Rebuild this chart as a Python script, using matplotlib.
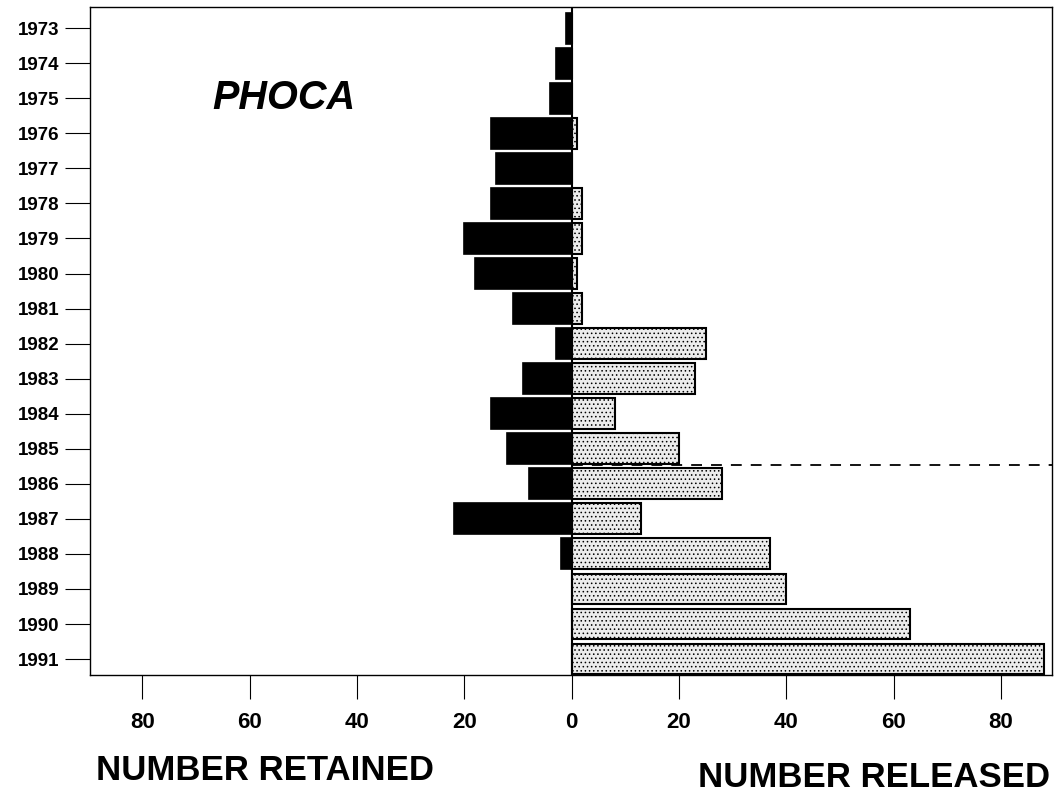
import matplotlib.pyplot as plt
import numpy as np

# Years and counts
years = list(range(1973, 1992))
retained = [1, 3, 4, 15, 14, 15, 20, 18, 11, 3, 9, 15, 12, 8, 22, 2, 0, 0, 0]
released = [0, 0, 0, 1, 0, 2, 2, 1, 2, 25, 23, 8, 20, 28, 13, 37, 40, 63, 88]
x_ticks = [-80, -60, -40, -20, 0, 20, 40, 60, 80]
x_tick_labels = ['80', '60', '40', '20', '0', '20', '40', '60', '80']

plt.rcParams['font.family'] = ['Liberation Sans', 'DejaVu Sans']
plt.rcParams['hatch.color'] = '#a8a8a8'
plt.rcParams['hatch.linewidth'] = 0.6

fig = plt.figure(figsize=(10.6, 7.93), dpi=100)
ax = fig.add_axes([0.085, 0.149, 0.9075, 0.842])

y = np.array(years)
ax.barh(y, -np.array(retained), height=0.88, color='black', edgecolor='black', linewidth=1.2)
ax.barh(y, released, height=0.88, color='#ececec', edgecolor='black', linewidth=1.5,
        hatch='....')

ax.axvline(0, color='black', linewidth=1.5)
ax.plot([0, 89.5], [1985.45, 1985.45], color='black', linestyle=(0, (6, 5)), linewidth=1.3)

ax.text(-67, 1975, 'PHOCA', fontsize=28.5, fontweight='bold', fontstyle='italic', va='center', ha='left')

ax.set_xlim(-89.7, 89.5)
ax.set_ylim(1991.45, 1972.4)
ax.set_yticks(years)
ax.set_yticklabels([str(v) for v in years], fontsize=13.5, fontweight='bold')
ax.set_xticks(x_ticks)
ax.set_xticklabels(x_tick_labels, fontsize=16, fontweight='bold')
ax.tick_params(axis='x', length=17, width=0.8, pad=10)
ax.tick_params(axis='y', length=18, width=0.8, pad=4)
for s in ax.spines.values():
    s.set_linewidth(1.0)

fig.text(0.25, 0.029, 'NUMBER RETAINED', fontsize=25, fontweight='bold', ha='center', va='center')
fig.text(0.825, 0.02, 'NUMBER RELEASED', fontsize=25, fontweight='bold', ha='center', va='center')

fig.savefig('out.png', dpi=100)
